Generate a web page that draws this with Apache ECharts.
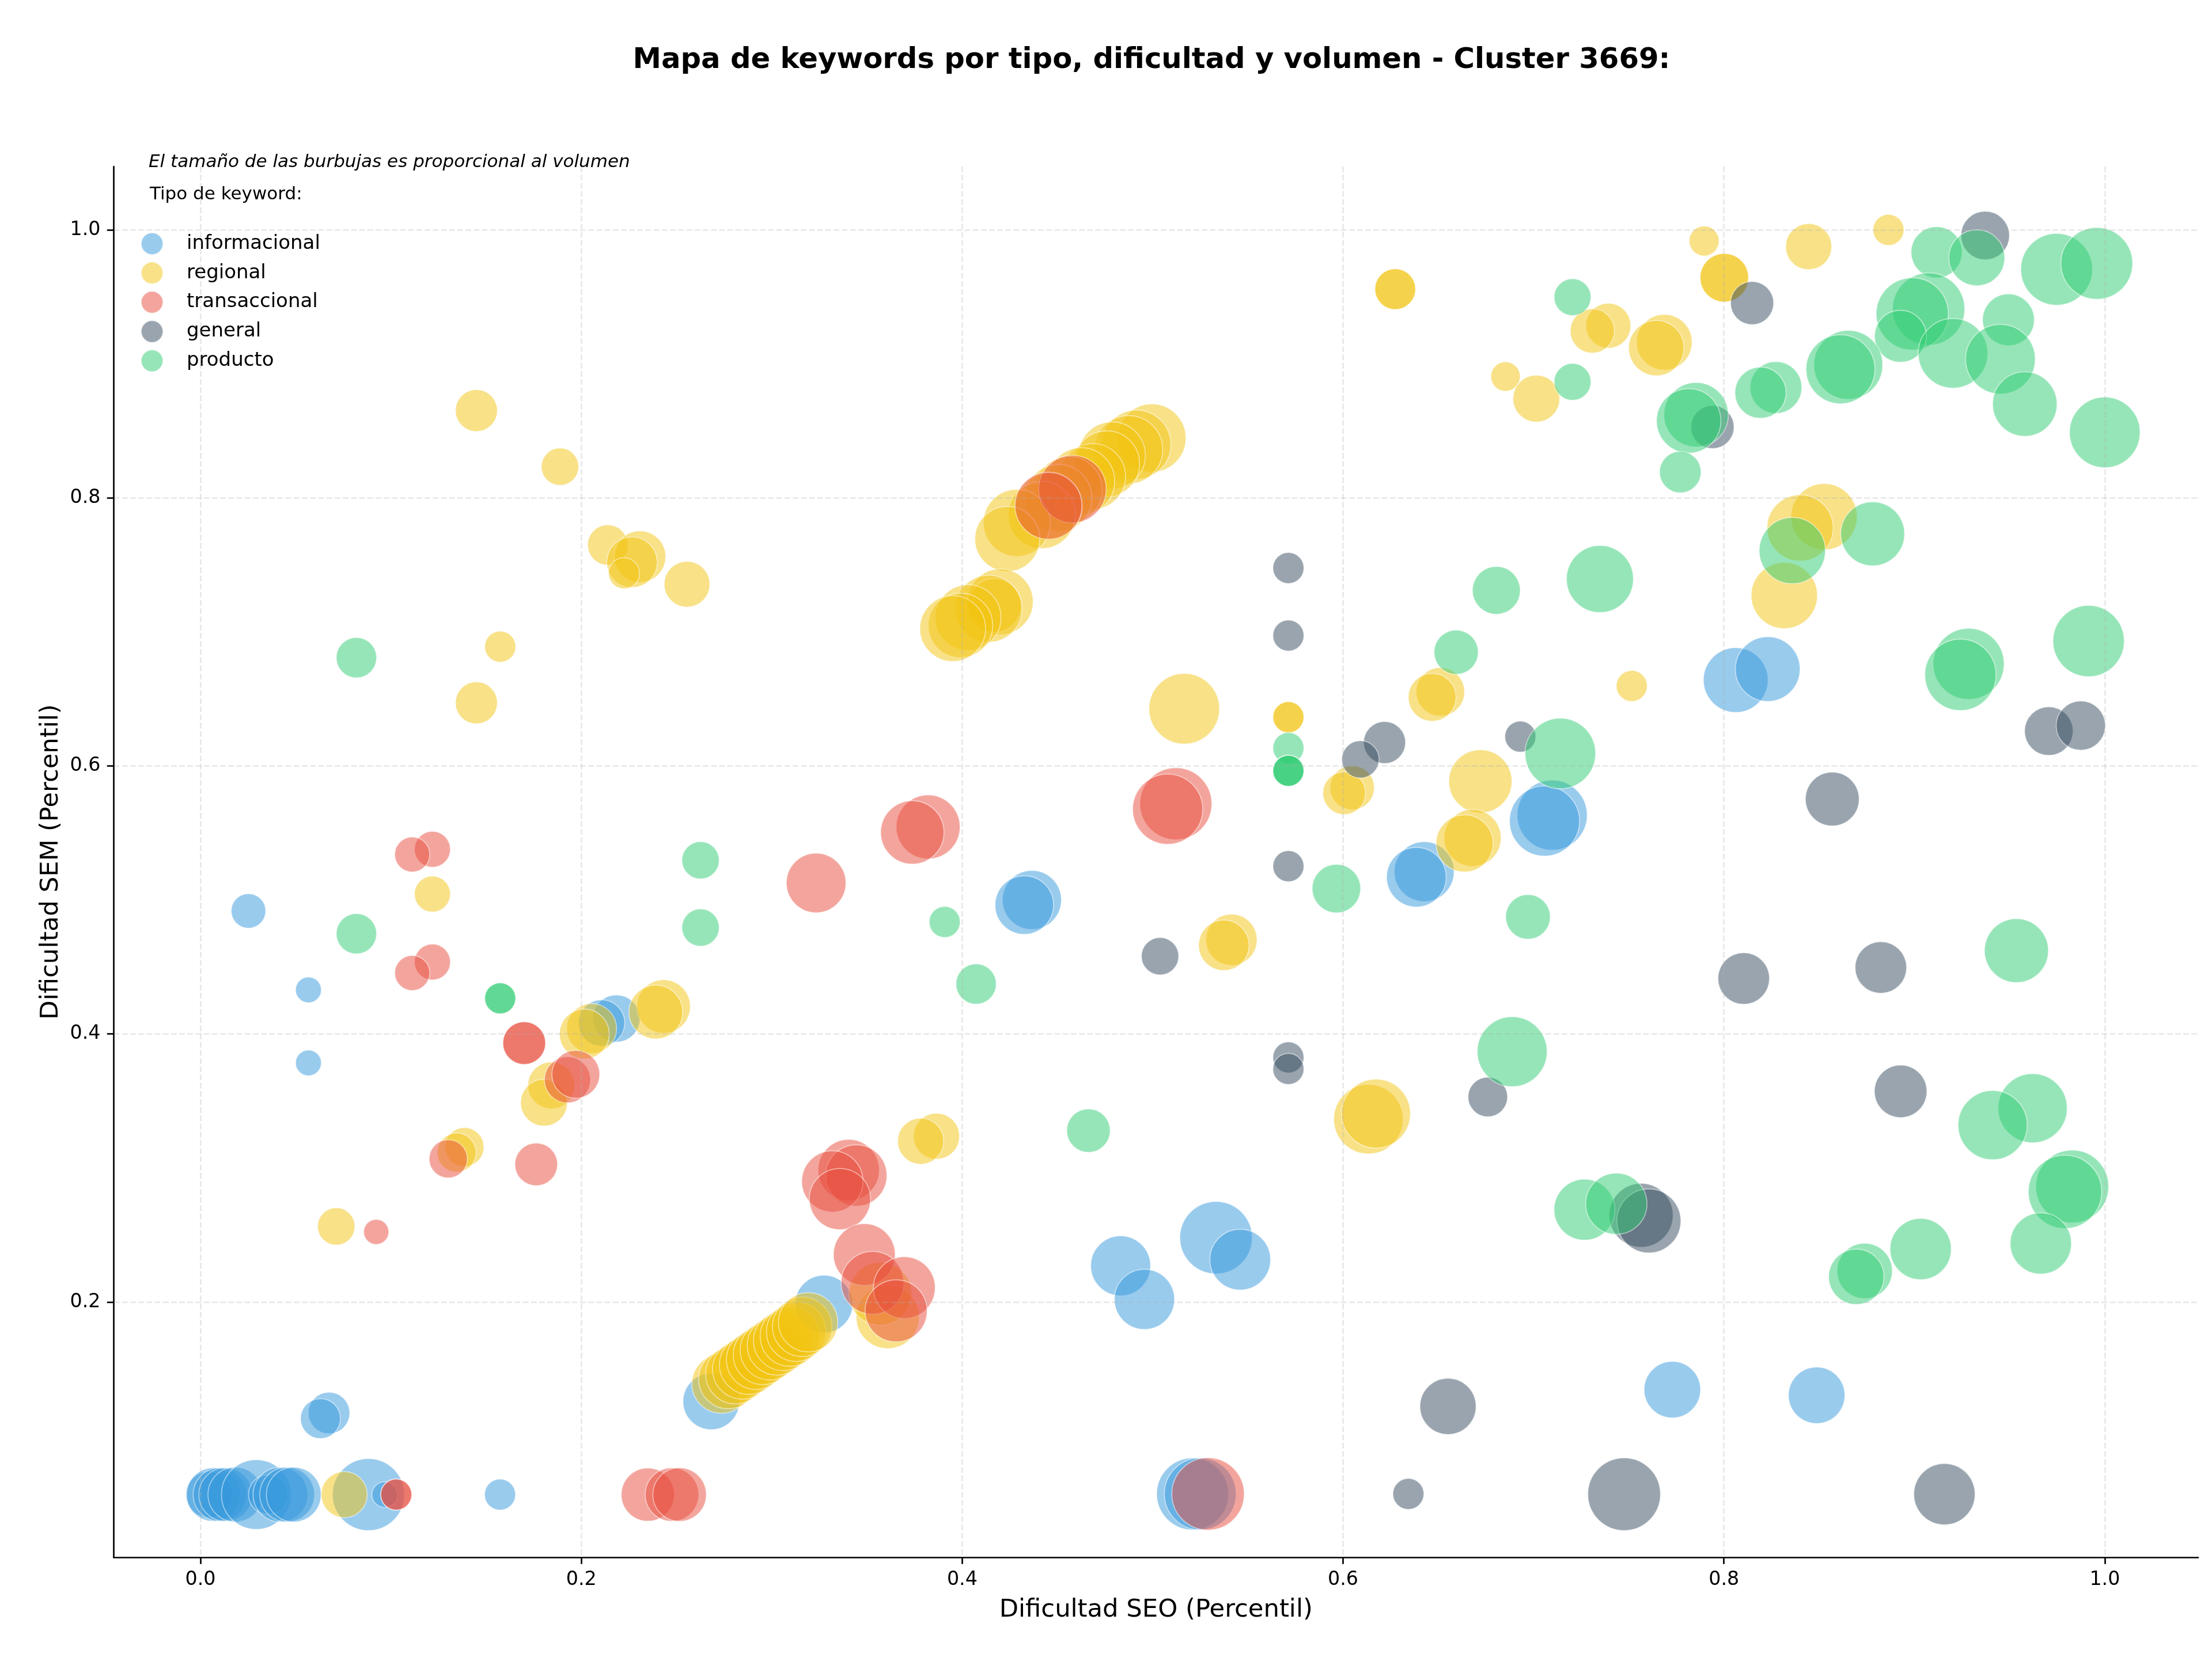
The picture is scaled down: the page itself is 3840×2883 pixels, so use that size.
<!DOCTYPE html>
<html>
<head>
<meta charset="utf-8">
<title>Mapa de keywords</title>
<script src="https://cdn.jsdelivr.net/npm/echarts@6/dist/echarts.min.js"></script>
<style>
  html, body { margin: 0; padding: 0; background: #fff; }
  #chart { width: 3840px; height: 2883px; }
</style>
</head>
<body>
<div id="chart"></div>
<script>
// Cada punto: [dificultad SEO, dificultad SEM, volumen]
const informacional = [
  [.0044,.0563,64],[.0067,.0563,86],[.0102,.0563,86],[.0132,.0563,86],[.0183,.0563,90],[.0293,.0563,146],
  [.0356,.0563,47],[.042,.0563,90],[.0455,.0563,90],[.049,.0563,90],[.0882,.0563,156],[.0968,.0563,20],
  [.1573,.0563,29],[.0675,.1172,52],[.063,.113,48],[.2682,.1258,96],[.3274,.1985,100],[.0252,.4918,36],
  [.0567,.4329,20],[.0567,.3784,20],[.2184,.4115,67],[.2106,.4082,65],[.4366,.5,105],[.4326,.4962,103],
  [.5333,.248,158],[.546,.2316,111],[.4832,.227,108],[.4957,.202,109],[.521,.0568,156],[.525,.0568,155],
  [.8062,.6641,126],[.823,.6723,126],[.7098,.5633,148],[.7058,.5589,148],[.6426,.5211,108],[.6385,.517,107],
  [.7729,.1346,96],[.8487,.1304,96]
];
const regional = [
  [.1449,.8652,53],[.1888,.8233,42],[.2139,.7649,49],[.2308,.7562,80],[.2266,.752,77],[.2224,.7438,29],
  [.2555,.7356,63],[.1574,.689,29],[.1449,.6471,53],[.1218,.5044,39],[.2054,.4041,75],[.2016,.4,75],
  [.2432,.4205,86],[.2391,.4164,87],[.1842,.3616,66],[.1804,.3488,66],[.1386,.3156,46],[.1345,.3115,46],
  [.0713,.2564,42],[.0755,.0563,64],
  [.2736,.1391,106],[.2772,.1425,106],[.2809,.1461,106],[.2845,.1497,106],[.2881,.1532,106],[.2918,.1569,106],
  [.2954,.1605,106],[.299,.164,106],[.3027,.1676,106],[.306,.171,106],[.3095,.1742,106],[.3128,.1778,106],
  [.316,.1815,106],[.3191,.1849,106],
  [.3609,.1888,120],[.357,.2061,119],[.3865,.3237,64],[.3782,.32,64],
  [.4996,.8447,140],[.4915,.8398,143],[.4874,.836,140],[.4786,.8317,135],[.4759,.8255,130],[.4685,.816,130],
  [.4625,.8125,135],[.456,.806,135],[.4505,.8,135],[.4455,.7935,135],[.4418,.7872,135],[.4287,.7814,135],
  [.4237,.7694,127],[.42,.7225,130],[.417,.7197,87],[.4139,.7173,135],[.4031,.7107,130],[.3991,.7049,125],
  [.395,.7025,130],[.5166,.6427,150],[.5414,.4703,79],[.5374,.4662,77],[.6133,.3364,145],[.6173,.3406,143],
  [.5713,.6364,29],[.5713,.6364,29],[.6511,.6553,71],[.6468,.6512,69],[.7516,.6597,29],[.6721,.5885,120],
  [.668,.5463,98],[.6638,.5422,98],[.6048,.5838,59],[.6006,.5797,55],[.7896,.9917,27],[.8445,.9875,64],
  [.8864,1,29],[.8002,.9643,71],[.8002,.9643,71],[.7393,.9285,61],[.7309,.9246,59],[.7687,.9162,93],
  [.7645,.9118,92],[.6853,.8906,26],[.7015,.8741,66],[.8526,.786,132],[.84,.7776,132],[.8317,.7272,132],
  [.6274,.9558,50],[.6274,.9558,50]
];
const transaccional = [
  [.1218,.5378,39],[.1112,.5339,37],[.1218,.4537,39],[.1112,.4455,37],[.17,.3932,55],[.17,.3932,55],
  [.1927,.3658,64],[.1971,.3699,69],[.1301,.3068,44],[.1763,.3027,55],[.0923,.2523,19],[.1028,.0563,29],
  [.1028,.0563,29],[.2349,.0563,85],[.2476,.0563,86],[.2516,.0563,86],[.3404,.2985,113],[.3444,.2944,113],
  [.3318,.29,113],[.3358,.2768,113],[.3486,.2354,115],[.3529,.2143,119],[.3696,.2107,115],[.3653,.1934,116],
  [.3821,.5545,123],[.3738,.5504,121],[.3233,.5127,107],[.5122,.5718,156],[.5079,.5677,148],[.4579,.8066,137],
  [.4453,.7942,135],[.5291,.0568,158]
];
const general = [
  [.5713,.7477,29],[.5713,.6973,29],[.5713,.5252,29],[.5713,.3825,29],[.5713,.3739,29],[.5039,.458,42],
  [.6551,.1221,95],[.6343,.0568,29],[.7476,.0566,159],[.9158,.0566,113],[.6218,.6175,53],[.6091,.6049,42],
  [.6931,.6219,29],[.8104,.4414,80],[.676,.353,47],[.8148,.9454,56],[.9372,.9958,71],[.794,.8529,56],
  [.9706,.626,71],[.9874,.6301,73],[.8569,.5753,87],[.8824,.4496,80],[.8928,.3572,83],[.7565,.2647,123],
  [.7606,.2605,123]
];
const producto = [
  [.0819,.6808,49],[.0819,.4748,49],[.2626,.5296,42],[.2626,.4794,42],[.1574,.4266,29],[.1574,.4266,29],
  [.3908,.4836,29],[.4073,.4373,49],[.4663,.3279,57],[.5713,.6134,29],[.5713,.5964,29],[.5713,.5964,29],
  [.5713,.5964,29],[.6805,.731,69],[.7349,.7395,135],[.6594,.6849,59],[.7141,.6093,150],[.5965,.5085,71],
  [.6971,.4874,60],[.6888,.3868,147],[.7268,.2689,112],[.7435,.2733,113],[.7205,.9498,41],[.7205,.8866,41],
  [.9117,.9833,79],[.9328,.9792,94],[.9747,.9706,155],[.9958,.975,155],[.9075,.941,157],[.8989,.9373,157],
  [.8927,.9206,81],[.9203,.9079,146],[.9494,.9329,81],[.9452,.9035,146],[.958,.87,125],[1,.8489,150],
  [.8653,.8993,143],[.8612,.896,143],[.8273,.8824,81],[.8192,.8785,79],[.7854,.8621,125],[.7815,.8575,125],
  [.7771,.8193,52],[.8359,.7607,132],[.8781,.7732,123],[.9285,.6762,152],[.9242,.668,153],[.9915,.6932,153],
  [.9536,.4622,123],[.9621,.3446,144],[.9411,.332,144],[.9829,.2862,160],[.9791,.2822,162],[.9664,.2437,113],
  [.9033,.2395,113],[.8739,.2232,92],[.8695,.2188,92]
];

const tiposKeyword = ['informacional', 'regional', 'transaccional', 'general', 'producto'];
const puntosPorTipo = [informacional, regional, transaccional, general, producto];
const coloresTipo = ['#3498db', '#f1c40f', '#e74c3c', '#34495e', '#2ecc71'];
const marcasEjeX = [0, 0.2, 0.4, 0.6, 0.8, 1];
const marcasEjeY = [0.2, 0.4, 0.6, 0.8, 1];

const fuente = '"DejaVu Sans"';
const escalaBurbuja = 10;   // el área de cada burbuja es proporcional al volumen

const ejeBase = {
  type: 'value',
  nameLocation: 'middle',
  nameTextStyle: { fontFamily: fuente, fontSize: 43.3, color: '#000' },
  axisLine: { show: true, onZero: false, lineStyle: { color: '#000', width: 2.67 } },
  splitLine: {
    show: true,
    lineStyle: { color: 'rgba(176,176,176,0.3)', width: 2.67, type: [9.9, 4.3] }
  },
  z: 10
};

const chart = echarts.init(document.getElementById('chart'), null, { renderer: 'canvas' });
chart.setOption({
  animation: false,
  backgroundColor: '#fff',
  title: [
    {
      text: 'Mapa de keywords por tipo, dificultad y volumen - Cluster 3669:',
      left: 1999, top: 80, padding: 0, textAlign: 'center',
      textStyle: { fontFamily: fuente, fontSize: 49.7, fontWeight: 'bold', color: '#000' }
    },
    {
      text: 'El tamaño de las burbujas es proporcional al volumen',
      left: 258, top: 266, padding: 0,
      textStyle: { fontFamily: fuente, fontSize: 31, fontStyle: 'italic', fontWeight: 'normal', color: '#000' }
    },
    {
      text: 'Tipo de keyword:',
      left: 260, top: 322, padding: 0,
      textStyle: { fontFamily: fuente, fontSize: 31, fontWeight: 'normal', color: '#000' }
    }
  ],
  legend: {
    data: tiposKeyword,
    orient: 'vertical',
    left: 244, top: 403, padding: 0,
    itemWidth: 38, itemHeight: 38, itemGap: 10.8,
    icon: 'circle',
    textStyle: { fontFamily: fuente, fontSize: 34, color: '#000', padding: [0, 0, 0, 36] }
  },
  grid: { left: 197.5, right: 24, top: 289, bottom: 180, containLabel: false },
  xAxis: Object.assign({}, ejeBase, {
    min: -0.04553, max: 1.04904,
    name: 'Dificultad SEO (Percentil)',
    nameGap: 70,
    axisTick: { show: true, customValues: marcasEjeX, length: 11.7, lineStyle: { color: '#000', width: 2.67 } },
    axisLabel: {
      customValues: marcasEjeX, margin: 23,
      fontFamily: fuente, fontSize: 33.3, color: '#000',
      formatter: v => v.toFixed(1)
    }
  }),
  yAxis: Object.assign({}, ejeBase, {
    min: 0.0095, max: 1.0473,
    name: 'Dificultad SEM (Percentil)',
    nameGap: 80,
    axisTick: { show: true, customValues: marcasEjeY, length: 11.7, lineStyle: { color: '#000', width: 2.67 } },
    axisLabel: {
      customValues: marcasEjeY, margin: 23, padding: [8, 0, 0, 0],
      fontFamily: fuente, fontSize: 33.3, color: '#000',
      formatter: v => v.toFixed(1)
    }
  }),
  series: tiposKeyword.map((nombre, i) => ({
    name: nombre,
    type: 'scatter',
    data: puntosPorTipo[i],
    symbol: 'circle',
    symbolSize: p => Math.sqrt(p[2]) * escalaBurbuja,
    itemStyle: { color: coloresTipo[i], opacity: 0.5, borderColor: '#fff', borderWidth: 1.7 },
    emphasis: { disabled: true },
    z: 2 + i
  }))
});
</script>
</body>
</html>
